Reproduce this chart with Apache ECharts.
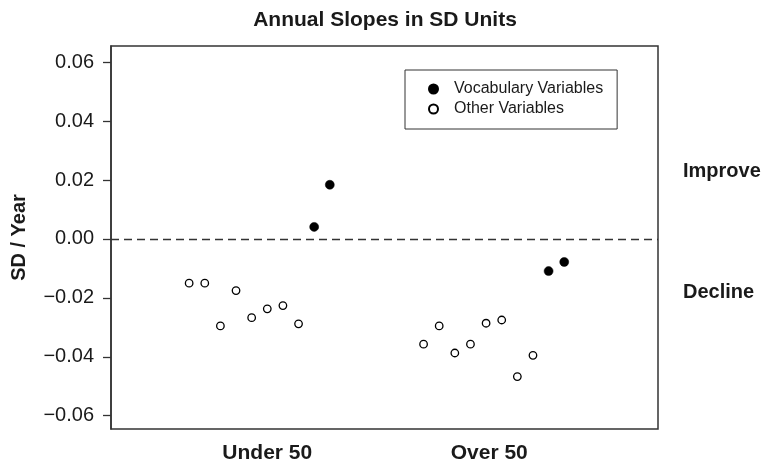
<!DOCTYPE html>
<html>
<head>
<meta charset="utf-8">
<script src="https://cdn.jsdelivr.net/npm/echarts@6/dist/echarts.min.js"></script>
<style>
  html, body { margin: 0; padding: 0; background: #fff; }
  #chart { width: 770px; height: 465px; }
</style>
</head>
<body>
<div id="chart"></div>
<script>
// Annual slopes (SD units per year) by age group
const groups = ['Under 50', 'Over 50'];
const groupLabelSlots = [6, 20.2];

// Slots along the horizontal axis (one per variable)
const under50OtherSlots = [1, 2, 3, 4, 5, 6, 7, 8];
const under50VocabSlots = [9, 10];
const over50OtherSlots = [16, 17, 18, 19, 20, 21, 22, 23];
const over50VocabSlots = [24, 25];

const under50Other = [-0.015, -0.015, -0.0295, -0.0175, -0.0267, -0.0237, -0.0226, -0.0288];
const under50Vocab = [0.0041, 0.0184];
const over50Other = [-0.0357, -0.0295, -0.0387, -0.0357, -0.0286, -0.0275, -0.0467, -0.0395];
const over50Vocab = [-0.0109, -0.0078];

const yTicks = [-0.06, -0.04, -0.02, 0, 0.02, 0.04, 0.06];
const sideLabels = [{ value: 0.0228, text: 'Improve' }, { value: -0.0183, text: 'Decline' }];

const zip = (xs, ys) => xs.map((x, i) => [x, ys[i]]);
const vocabData = zip(under50VocabSlots, under50Vocab).concat(zip(over50VocabSlots, over50Vocab));
const otherData = zip(under50OtherSlots, under50Other).concat(zip(over50OtherSlots, over50Other));

const ink = '#1a1a1a';
const font = 'Liberation Sans, Arial, Helvetica, sans-serif';

const chart = echarts.init(document.getElementById('chart'), null, { renderer: 'canvas' });
chart.setOption({
  animation: false,
  backgroundColor: '#fff',
  textStyle: { fontFamily: font, color: ink },
  title: {
    text: 'Annual Slopes in SD Units',
    left: 'center',
    top: 5,
    textStyle: { fontFamily: font, fontSize: 21, fontWeight: 'bold', color: ink }
  },
  grid: {
    left: 111, right: 112, top: 46, bottom: 36,
    show: true, borderColor: '#333', borderWidth: 1.5, backgroundColor: 'transparent'
  },
  legend: {
    orient: 'vertical',
    left: 405, top: 70,
    padding: [11, 14, 12, 23],
    itemGap: 4,
    itemWidth: 9, itemHeight: 9,
    borderColor: '#333', borderWidth: 1,
    backgroundColor: '#fff',
    textStyle: { fontFamily: font, fontSize: 16, color: ink, padding: [0, 0, 0, 11] },
    data: ['Vocabulary Variables', 'Other Variables']
  },
  xAxis: {
    type: 'value',
    min: -4, max: 31,
    splitLine: { show: false },
    axisLine: { show: false },
    axisTick: { show: false },
    axisLabel: {
      customValues: groupLabelSlots,
      formatter: v => groups[groupLabelSlots.indexOf(v)] || '',
      margin: 14,
      fontFamily: font, fontSize: 21, fontWeight: 'bold', color: ink
    }
  },
  yAxis: [{
    type: 'value',
    min: -0.0645, max: 0.0655,
    name: 'SD / Year',
    nameLocation: 'middle',
    nameGap: 82,
    nameTextStyle: { fontFamily: font, fontSize: 20, fontWeight: 'bold', color: ink },
    splitLine: { show: false },
    axisLine: { show: true, onZero: false, lineStyle: { color: '#333', width: 1.5 } },
    axisTick: { show: true, customValues: yTicks, length: 8, lineStyle: { color: '#333', width: 1.3 } },
    axisLabel: {
      customValues: yTicks,
      margin: 17,
      formatter: v => v.toFixed(2).replace('-', '\u2212'),
      fontFamily: font, fontSize: 20, color: ink
    }
  }, {
    type: 'value',
    position: 'right',
    min: -0.0645, max: 0.0655,
    splitLine: { show: false },
    axisLine: { show: false, onZero: false },
    axisTick: { show: false },
    axisLabel: {
      customValues: sideLabels.map(d => d.value),
      formatter: v => (sideLabels.find(d => d.value === v) || {}).text || '',
      margin: 25,
      fontFamily: font, fontSize: 20, fontWeight: 'bold', color: ink
    }
  }],
  series: [{
    name: 'Vocabulary Variables',
    type: 'scatter',
    symbol: 'circle',
    symbolSize: 9,
    itemStyle: { color: '#000', borderColor: '#000', borderWidth: 0.5, opacity: 1 },
    data: vocabData,
    z: 3
  }, {
    name: 'Other Variables',
    type: 'scatter',
    symbol: 'circle',
    symbolSize: 7.5,
    itemStyle: { color: '#fff', borderColor: '#000', borderWidth: 1.3, opacity: 1 },
    data: otherData,
    z: 3,
    markLine: {
      silent: true,
      symbol: 'none',
      label: { show: false },
      lineStyle: { color: '#333', type: [8, 5], width: 1.3 },
      data: [{ yAxis: 0 }]
    }
  }]
});
</script>
</body>
</html>
